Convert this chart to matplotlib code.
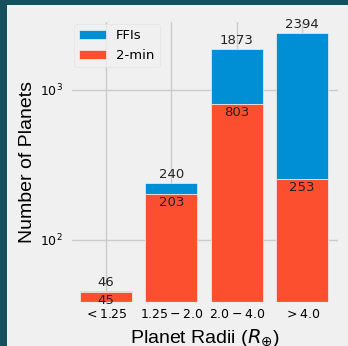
import numpy as np
import matplotlib.pyplot as plt
from matplotlib.patches import Rectangle

# Data
categories = ['$<1.25$', '$1.25-2.0$', '$2.0-4.0$', '$>4.0$']
two_min = [45, 203, 803, 253]
total = [46, 240, 1873, 2394]
ffis = [t - m for t, m in zip(total, two_min)]

plt.style.use('fivethirtyeight')

W, H = 348, 346
fig = plt.figure(figsize=(W / 100, H / 100), dpi=100)
fig.patch.set_facecolor('#184f5c')
# light panel (the screenshot is cropped inside a dark frame)
fig.patches.append(Rectangle((7 / W, 0), 1, 1 - 5 / H, transform=fig.transFigure,
                             facecolor='#f0f0f0', edgecolor='none', zorder=-10))

ax = fig.add_axes([70 / W, (H - 304) / H, 270 / W, 284 / H])
ax.set_facecolor('#f0f0f0')

x = np.arange(len(categories))
ax.bar(x, ffis, bottom=two_min, width=0.8, color='#008fd5', label='FFIs',
       edgecolor='#f0f0f0', linewidth=0.5, zorder=2)
ax.bar(x, two_min, width=0.8, color='#fc4f30', label='2-min',
       edgecolor='#f0f0f0', linewidth=0.5, zorder=2)

ax.set_yscale('log')
ax.set_ylim(37.4, 2929)
ax.set_xlim(-0.55, 3.58)
ax.set_xticks(x)
ax.set_xticklabels(categories)
ax.minorticks_off()
ax.tick_params(axis='both', labelsize=9, length=0, pad=3)
ax.tick_params(axis='y', pad=5)
ax.grid(True, color='#cbcbcb', linewidth=1)
ax.set_axisbelow(True)

for i in range(len(x)):
    ax.text(x[i], total[i] * 1.03, str(total[i]), ha='center', va='bottom',
            fontsize=9.5, color='#222222')
    ax.text(x[i], two_min[i] * 0.97, str(two_min[i]), ha='center', va='top',
            fontsize=9.5, color='#222222')

ax.set_ylabel('Number of Planets', fontsize=14, family='Liberation Sans', labelpad=3)
ax.set_xlabel(r'Planet Radii ($R_{\oplus}$)', fontsize=14, family='Liberation Sans', labelpad=4)

leg = ax.legend(loc='upper left', fontsize=9.5, frameon=True, bbox_to_anchor=(0.0, 1.0),
                borderaxespad=0.3, handlelength=2.0)
leg.get_frame().set_facecolor('#f0f0f0')
leg.get_frame().set_edgecolor('#e0e0e0')

plt.savefig('out.png', dpi=100, facecolor=fig.get_facecolor())
